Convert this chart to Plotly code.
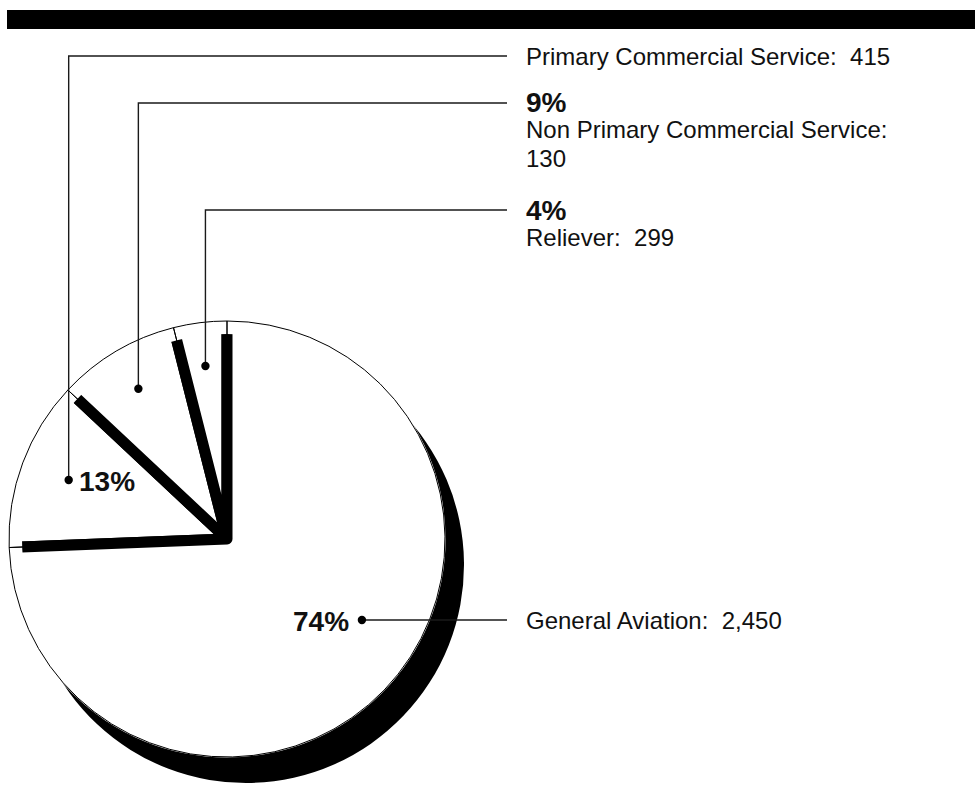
import math
import plotly.graph_objects as go

# ---------------- data ----------------
# slice sizes, clockwise from 12 o'clock (as drawn in the reference)
slice_values = [2450, 415, 299, 130]
# texts shown next to each slice's leader (same order as slice_values)
label_names = ["General Aviation", "Primary Commercial Service",
               "Non Primary Commercial Service", "Reliever"]
label_counts = [2450, 415, 130, 299]

total = sum(slice_values)
pcts = [round(100 * v / total) for v in slice_values]

# ---------------- layout constants (pixels) ----------------
W, H = 975, 787
CX, CY = 227, 539          # pie centre
R_VIS = 218                # visible pie radius
BAND = 11                  # black separator band width
R_MAIN = R_VIS - 6         # radius of the stroked white pie
SH_DX, SH_DY = 19, 26      # drop shadow offset
FONT = "Liberation Sans, Arial, Helvetica, sans-serif"
INK = "#111111"


def dom(cx, cy, r):
    return dict(x=[(cx - r) / W, (cx + r) / W], y=[1 - (cy + r) / H, 1 - (cy - r) / H])


def px(x):
    return x / W


def py(y):
    return 1 - y / H


# draw General Aviation last so it sits on top
order = [1, 2, 3, 0]
draw_vals = [slice_values[i] for i in order]
rot = 360.0 * slice_values[0] / total  # start of the first drawn slice (clockwise from top)
common = dict(sort=False, direction="clockwise", textinfo="none",
              hoverinfo="skip", showlegend=False)

fig = go.Figure()
# shadow
fig.add_trace(go.Pie(values=draw_vals, rotation=rot, domain=dom(CX + SH_DX, CY + SH_DY, R_VIS),
                     marker=dict(colors=["black"] * 4, line=dict(width=0)), **common))
# white slices with thick black separators
fig.add_trace(go.Pie(values=draw_vals, rotation=rot, domain=dom(CX, CY, R_MAIN),
                     marker=dict(colors=["white"] * 4, line=dict(color="black", width=BAND)),
                     **common))
# white rim ring (hides the outer part of the stroke)
fig.add_trace(go.Pie(values=[total], rotation=0, domain=dom(CX, CY, R_VIS + 0.5),
                     hole=(R_MAIN - BAND / 2 - 1.5) / (R_VIS + 0.5),
                     marker=dict(colors=["white"], line=dict(width=0)), **common))
# thin outline
fig.add_trace(go.Pie(values=draw_vals, rotation=rot, domain=dom(CX, CY, R_VIS),
                     marker=dict(colors=["rgba(0,0,0,0)"] * 4, line=dict(color="black", width=1)),
                     **common))

# ---------------- leader lines & labels ----------------
cum = 0
mids = []
for v in slice_values:
    mids.append(360.0 * (cum + v / 2) / total)
    cum += v

shapes = []
annos = []
LINE_END = 507
TEXT_X = 525
line_style = dict(color="#1a1a1a", width=1.4)


def dot(x, y, r=4.2):
    shapes.append(dict(type="circle", xref="paper", yref="paper",
                       x0=px(x - r), x1=px(x + r), y0=py(y + r), y1=py(y - r),
                       fillcolor="black", line=dict(width=0)))


# small slices: dot inside slice, line up then right
leader_frac = {1: 0.775, 2: 0.80, 3: 0.80}
leader_y = {1: 56, 2: 103, 3: 210}
for i in (1, 2, 3):
    a = math.radians(mids[i])
    rr = leader_frac[i] * R_VIS
    dx_, dy_ = CX + rr * math.sin(a), CY - rr * math.cos(a)
    ly = leader_y[i]
    shapes.append(dict(type="path", xref="paper", yref="paper",
                       path=f"M {px(dx_)},{py(dy_)} L {px(dx_)},{py(ly)} L {px(LINE_END)},{py(ly)}",
                       line=line_style))
    dot(dx_, dy_)
    if i == 1:
        annos.append(dict(x=px(dx_ + 9), y=py(dy_ + 1), text=f"<b>{pcts[i]}%</b>",
                          xanchor="left", yanchor="middle", font=dict(size=28, family=FONT, color=INK)))

# General Aviation label
ga_a = math.radians(121)
ga_r = 0.722 * R_VIS
gx, gy = CX + ga_r * math.sin(ga_a), CY - ga_r * math.cos(ga_a)
shapes.append(dict(type="line", xref="paper", yref="paper", x0=px(gx), x1=px(LINE_END),
                   y0=py(gy), y1=py(gy), line=line_style))
dot(gx, gy)
annos.append(dict(x=px(gx - 12), y=py(gy + 1), text=f"<b>{pcts[0]}%</b>", xanchor="right",
                  yanchor="middle", font=dict(size=28, family=FONT, color=INK)))


def lab(i):
    return f"{label_names[i]}:\u00a0 {label_counts[i]:,}"


reg = dict(size=24, family=FONT, color=INK)
bold = dict(size=28, family=FONT, color=INK)
annos += [
    dict(x=px(TEXT_X), y=py(gy), text=lab(0), xanchor="left", yanchor="middle", font=reg),
    dict(x=px(TEXT_X), y=py(57), text=lab(1), xanchor="left", yanchor="middle", font=reg),
    dict(x=px(TEXT_X), y=py(103), text=f"<b>{pcts[2]}%</b>", xanchor="left", yanchor="middle", font=bold),
    dict(x=px(TEXT_X), y=py(129), text=f"{label_names[2]}:", xanchor="left", yanchor="middle", font=reg),
    dict(x=px(TEXT_X), y=py(158), text=f"{label_counts[2]:,}", xanchor="left", yanchor="middle", font=reg),
    dict(x=px(TEXT_X), y=py(211), text=f"<b>{pcts[3]}%</b>", xanchor="left", yanchor="middle", font=bold),
    dict(x=px(TEXT_X), y=py(237), text=f"{label_names[3]}:\u00a0 {label_counts[3]:,}",
         xanchor="left", yanchor="middle", font=reg),
]
for a in annos:
    a.update(xref="paper", yref="paper", showarrow=False, borderpad=0)

# top black bar
shapes.insert(0, dict(type="rect", xref="paper", yref="paper", x0=px(7), x1=1.0,
                      y0=py(29), y1=py(10), fillcolor="black", line=dict(width=0)))

fig.update_layout(width=W, height=H, margin=dict(l=0, r=0, t=0, b=0),
                  paper_bgcolor="white", plot_bgcolor="white",
                  shapes=shapes, annotations=annos, font=dict(family=FONT, color=INK))

fig.write_html("out.html", config={"displayModeBar": False},
               post_script="document.body.style.margin='0';document.body.style.overflow='hidden';")
